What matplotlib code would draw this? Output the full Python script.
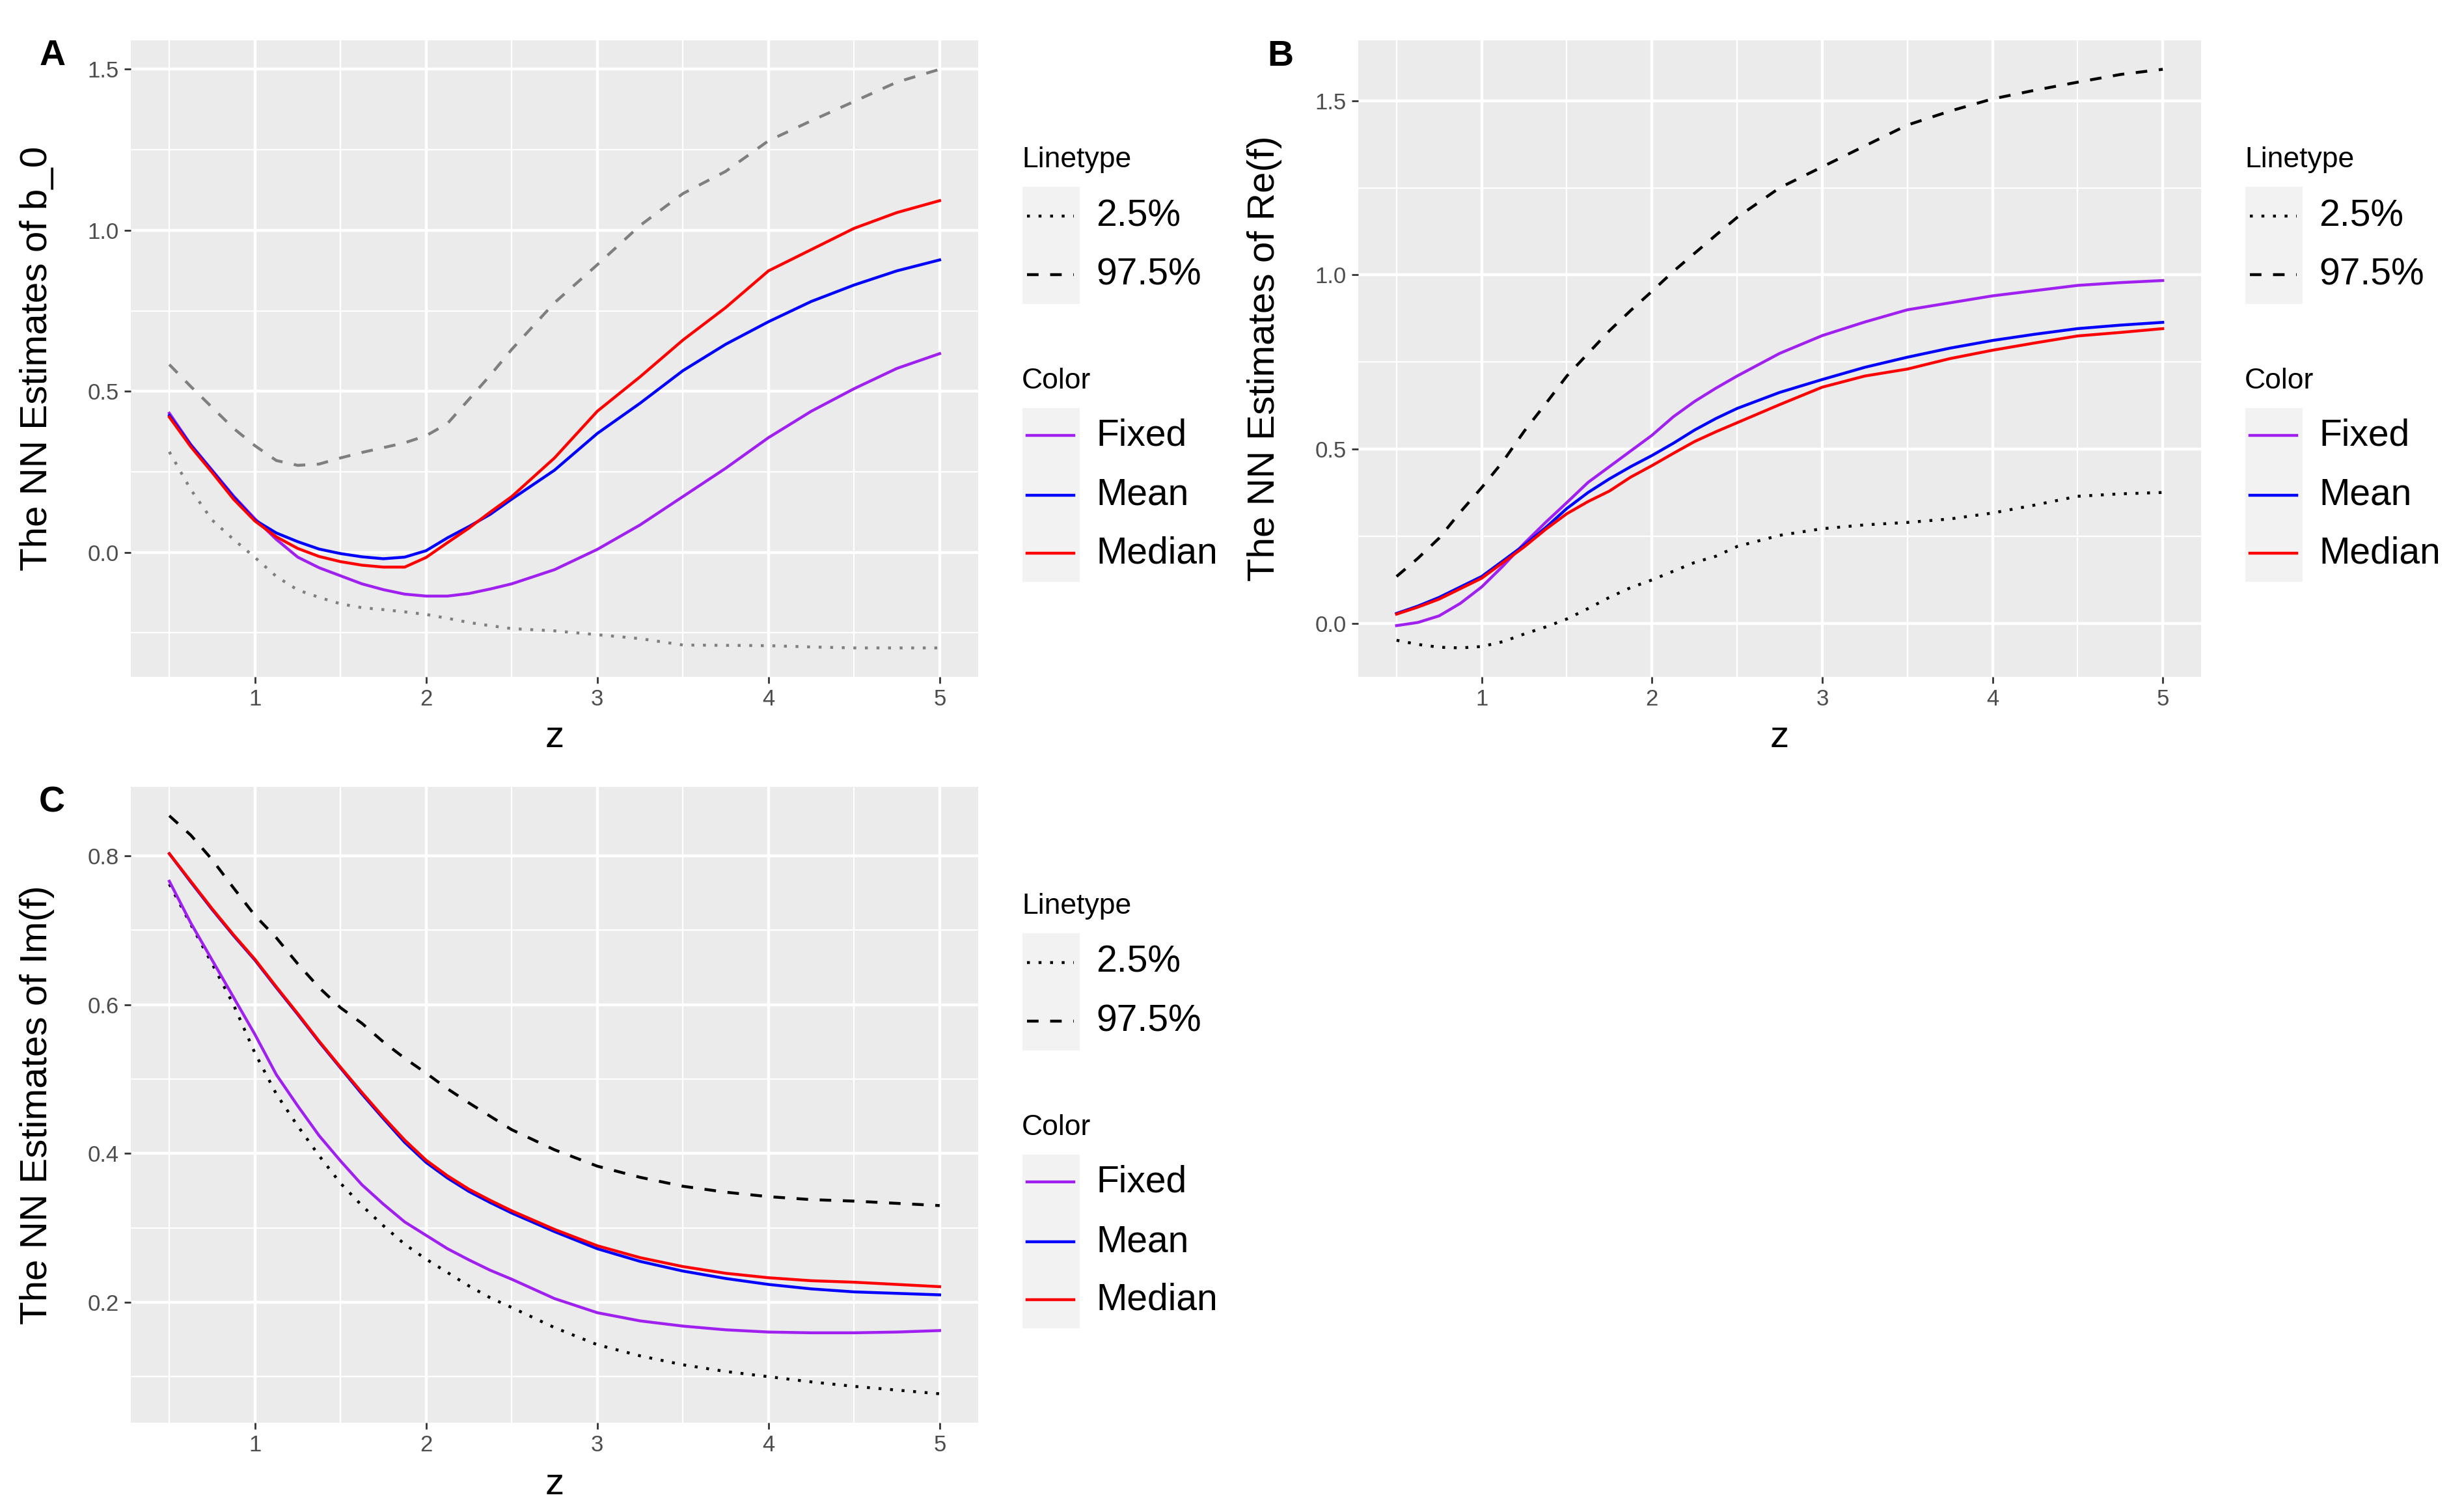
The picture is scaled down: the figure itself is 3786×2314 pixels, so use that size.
import matplotlib
matplotlib.use('Agg')
import matplotlib.pyplot as plt
from matplotlib.lines import Line2D
from matplotlib.patches import Rectangle
from matplotlib.ticker import FormatStrFormatter, MultipleLocator

plt.rcParams['font.family'] = ['Liberation Sans', 'DejaVu Sans']

# ---- data ----
z = [0.5, 0.625, 0.75, 0.875, 1.0, 1.125, 1.25, 1.375, 1.5, 1.625, 1.75, 1.875,
     2.0, 2.125, 2.25, 2.375, 2.5, 2.75, 3.0, 3.25, 3.5, 3.75, 4.0, 4.25, 4.5, 4.75, 5.0]

# panel A: b_0
a_lower = [0.312, 0.195, 0.10, 0.04, -0.016, -0.075, -0.117, -0.14, -0.16, -0.172, -0.178, -0.185,
           -0.193, -0.205, -0.218, -0.228, -0.237, -0.244, -0.256, -0.268, -0.288, -0.289, -0.29,
           -0.294, -0.297, -0.297, -0.297]
a_upper = [0.583, 0.515, 0.45, 0.385, 0.331, 0.285, 0.27, 0.274, 0.293, 0.31, 0.325, 0.34,
           0.362, 0.40, 0.475, 0.55, 0.63, 0.775, 0.893, 1.015, 1.114, 1.183, 1.278,
           1.34, 1.40, 1.46, 1.50]
a_fixed = [0.432, 0.335, 0.255, 0.175, 0.104, 0.04, -0.015, -0.048, -0.073, -0.098, -0.116, -0.13,
           -0.136, -0.136, -0.128, -0.114, -0.098, -0.054, 0.009, 0.085, 0.173, 0.261, 0.356,
           0.438, 0.508, 0.571, 0.617]
a_mean = [0.425, 0.333, 0.253, 0.172, 0.10, 0.06, 0.033, 0.01, -0.004, -0.014, -0.02, -0.015,
          0.005, 0.045, 0.08, 0.118, 0.165, 0.255, 0.369, 0.463, 0.564, 0.646, 0.716,
          0.779, 0.83, 0.874, 0.908]
a_median = [0.42, 0.328, 0.248, 0.165, 0.097, 0.048, 0.012, -0.013, -0.029, -0.04, -0.046, -0.046,
            -0.016, 0.03, 0.075, 0.125, 0.173, 0.293, 0.438, 0.545, 0.659, 0.76, 0.874,
            0.94, 1.006, 1.055, 1.092]

# panel B: Re(f)
b_lower = [-0.048, -0.06, -0.068, -0.07, -0.066, -0.052, -0.03, -0.01, 0.013, 0.043, 0.075, 0.103,
           0.125, 0.15, 0.175, 0.193, 0.221, 0.253, 0.272, 0.283, 0.29, 0.30, 0.317,
           0.34, 0.365, 0.372, 0.376]
b_upper = [0.135, 0.187, 0.245, 0.32, 0.39, 0.465, 0.552, 0.63, 0.71, 0.775, 0.84, 0.898,
           0.953, 1.01, 1.062, 1.114, 1.165, 1.25, 1.31, 1.37, 1.43, 1.47, 1.505,
           1.53, 1.553, 1.575, 1.59]
b_fixed = [-0.006, 0.003, 0.022, 0.058, 0.105, 0.165, 0.23, 0.29, 0.347, 0.405, 0.45, 0.495,
           0.54, 0.593, 0.637, 0.675, 0.71, 0.775, 0.826, 0.865, 0.90, 0.92, 0.94,
           0.955, 0.97, 0.978, 0.984]
b_mean = [0.029, 0.05, 0.075, 0.105, 0.135, 0.18, 0.225, 0.275, 0.33, 0.376, 0.415, 0.45,
          0.482, 0.517, 0.555, 0.588, 0.617, 0.663, 0.70, 0.735, 0.764, 0.79, 0.812,
          0.83, 0.846, 0.856, 0.864]
b_median = [0.027, 0.047, 0.07, 0.10, 0.13, 0.175, 0.22, 0.27, 0.315, 0.35, 0.38, 0.42,
            0.453, 0.488, 0.522, 0.55, 0.576, 0.628, 0.678, 0.71, 0.73, 0.76, 0.784,
            0.805, 0.825, 0.835, 0.846]

# panel C: Im(f)
c_lower = [0.762, 0.708, 0.655, 0.6, 0.535, 0.48, 0.437, 0.397, 0.36, 0.33, 0.303, 0.278,
           0.258, 0.24, 0.222, 0.206, 0.193, 0.166, 0.143, 0.128, 0.116, 0.107, 0.10,
           0.093, 0.087, 0.082, 0.077]
c_upper = [0.854, 0.828, 0.795, 0.757, 0.72, 0.69, 0.655, 0.623, 0.596, 0.575, 0.55, 0.528,
           0.508, 0.487, 0.468, 0.45, 0.432, 0.405, 0.383, 0.368, 0.356, 0.348, 0.342,
           0.338, 0.336, 0.333, 0.33]
c_fixed = [0.766, 0.71, 0.66, 0.61, 0.56, 0.506, 0.464, 0.424, 0.39, 0.358, 0.332, 0.308,
           0.29, 0.272, 0.257, 0.243, 0.231, 0.205, 0.186, 0.175, 0.168, 0.163, 0.16,
           0.159, 0.159, 0.16, 0.162]
c_mean = [0.803, 0.765, 0.728, 0.693, 0.66, 0.623, 0.587, 0.55, 0.515, 0.48, 0.447, 0.415,
          0.388, 0.367, 0.349, 0.334, 0.32, 0.295, 0.272, 0.255, 0.242, 0.232, 0.224,
          0.218, 0.214, 0.212, 0.21]
c_median = [0.803, 0.766, 0.729, 0.694, 0.661, 0.624, 0.588, 0.551, 0.516, 0.482, 0.449, 0.418,
            0.391, 0.37, 0.352, 0.337, 0.323, 0.298, 0.276, 0.26, 0.248, 0.239, 0.233,
            0.229, 0.227, 0.224, 0.221]

color_names = ['Fixed', 'Mean', 'Median']
colors = {'Fixed': '#A020F0', 'Mean': '#0000FF', 'Median': '#FF0000'}
linetype_names = ['2.5%', '97.5%']
dotted = (0, (1, 3))
dashed = (0, (4, 4))

W, H = 3786, 2314
LW = 1.6

fig = plt.figure(figsize=(W / 200, H / 200), dpi=200)


def px(x, y):
    return x / W, 1 - y / H


def draw_legend(ax):
    # ggplot-style legend to the right of the panel, positions in pixels
    bb = ax.get_position()
    right = bb.x1 * W
    top = (1 - bb.y1) * H + 6
    fig.text(*px(right + 67, top + 177), 'Linetype', fontsize=16, va='center', ha='left')
    fig.add_artist(Rectangle(px(right + 68, top + 399), 88 / W, 180 / H,
                             transform=fig.transFigure, facecolor='#F2F2F2', edgecolor='none'))
    for name, ls, dy in zip(linetype_names, [dotted, dashed], [264, 354]):
        x1, y1 = px(right + 75, top + dy)
        x2, _ = px(right + 147, top + dy)
        fig.add_artist(Line2D([x1, x2], [y1, y1], transform=fig.transFigure,
                              color='black', lw=LW, linestyle=ls))
        fig.text(*px(right + 181, top + dy), name, fontsize=20.5, va='center', ha='left')

    fig.text(*px(right + 67, top + 517), 'Color', fontsize=16, va='center', ha='left')
    fig.add_artist(Rectangle(px(right + 68, top + 826), 88 / W, 267 / H,
                             transform=fig.transFigure, facecolor='#F2F2F2', edgecolor='none'))
    for name, dy in zip(color_names, [601, 693, 782]):
        x1, y1 = px(right + 75, top + dy)
        x2, _ = px(right + 147, top + dy)
        fig.add_artist(Line2D([x1, x2], [y1, y1], transform=fig.transFigure,
                              color=colors[name], lw=LW))
        fig.text(*px(right + 181, top + dy), name, fontsize=20.5, va='center', ha='left')


def make_panel(rect, tag, tag_xy, ylabel, lower, upper, fixed, mean, median,
               ystep, band_color, xlab_y):
    ax = fig.add_axes(rect)
    ax.set_facecolor('#EBEBEB')
    for side in ['top', 'bottom', 'left', 'right']:
        ax.spines[side].set_visible(False)

    ax.plot(z, lower, color=band_color, lw=LW, linestyle=dotted)
    ax.plot(z, upper, color=band_color, lw=LW, linestyle=dashed)
    ax.plot(z, fixed, color=colors['Fixed'], lw=LW)
    ax.plot(z, mean, color=colors['Mean'], lw=LW)
    ax.plot(z, median, color=colors['Median'], lw=LW)

    ax.margins(x=0.05, y=0.05)
    ax.xaxis.set_major_locator(MultipleLocator(1))
    ax.xaxis.set_minor_locator(MultipleLocator(0.5))
    ax.yaxis.set_major_locator(MultipleLocator(ystep))
    ax.yaxis.set_minor_locator(MultipleLocator(ystep / 2))
    ax.yaxis.set_major_formatter(FormatStrFormatter('%.1f'))
    ax.grid(which='major', color='white', lw=1.6)
    ax.grid(which='minor', color='white', lw=0.8)
    ax.set_axisbelow(True)
    ax.tick_params(which='major', length=3.5, width=1.0, color='#333333',
                   labelsize=12.5, labelcolor='#4D4D4D', pad=3)
    ax.tick_params(which='minor', length=0)

    ax.set_xlabel('z', fontsize=21)
    ax.xaxis.set_label_coords(0.5, xlab_y)
    ax.set_ylabel(ylabel, fontsize=21)
    ax.yaxis.set_label_coords(-0.09, 0.5)

    fig.text(*px(*tag_xy), tag, fontsize=20, fontweight='bold', ha='center', va='center')
    draw_legend(ax)
    return ax


make_panel([201 / W, 1 - 1040 / H, 1302 / W, 978 / H], 'A', (81, 86),
           'The NN Estimates of b_0', a_lower, a_upper, a_fixed, a_mean, a_median,
           0.5, '#7F7F7F', -0.067)
make_panel([2087 / W, 1 - 1040 / H, 1295 / W, 978 / H], 'B', (1967, 87),
           'The NN Estimates of Re(f)', b_lower, b_upper, b_fixed, b_mean, b_median,
           0.5, 'black', -0.067)
make_panel([201 / W, 1 - 2186 / H, 1302 / W, 977 / H], 'C', (80, 1234),
           'The NN Estimates of Im(f)', c_lower, c_upper, c_fixed, c_mean, c_median,
           0.2, 'black', -0.07)

fig.savefig('out.png', dpi=200)
